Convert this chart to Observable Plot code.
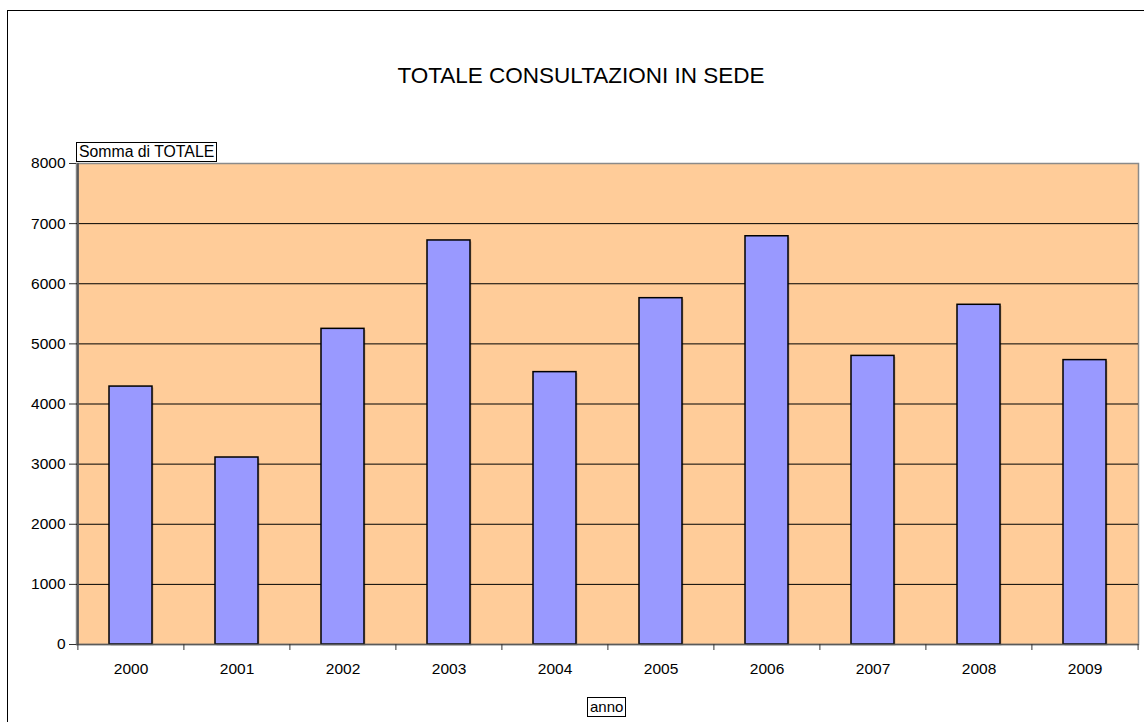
<!DOCTYPE html>
<html>
<head>
<meta charset="utf-8">
<script src="https://cdn.jsdelivr.net/npm/d3@7"></script>
<script src="https://cdn.jsdelivr.net/npm/@observablehq/plot@0.6"></script>
<style>
  html, body { margin: 0; padding: 0; background: #fff; overflow: hidden; }
  #wrap { position: relative; width: 1144px; height: 722px; overflow: hidden; font-family: "Liberation Sans", Arial, sans-serif; }
  #outer { position: absolute; left: 7px; top: 10px; width: 1300px; height: 900px; border: 1px solid #000; box-sizing: border-box; }
  #chart { position: absolute; left: 0; top: 0; }
  #title { position: absolute; left: 281px; width: 600px; top: 62px; text-align: center; font-size: 22.5px; color: #000; line-height: 27px; }
  .box { position: absolute; border: 1px solid #000; background: #fff; font-size: 15px; line-height: 18px; padding: 0 2px; color: #000; }
  #ylab { left: 76px; top: 142px; font-size: 15.8px; }
  #xlab { left: 587px; top: 697px; }
</style>
</head>
<body>
<div id="wrap">
  <div id="outer"></div>
  <div id="chart"></div>
  <div id="title">TOTALE CONSULTAZIONI IN SEDE</div>
  <div class="box" id="ylab">Somma di TOTALE</div>
  <div class="box" id="xlab">anno</div>
</div>
<script>
const years = ["2000","2001","2002","2003","2004","2005","2006","2007","2008","2009"];
const totals = [4290, 3110, 5250, 6720, 4530, 5760, 6790, 4800, 5650, 4730];
const yTicks = [0, 1000, 2000, 3000, 4000, 5000, 6000, 7000, 8000];
const gridTicks = [1000, 2000, 3000, 4000, 5000, 6000, 7000];

const data = years.map((y, i) => ({anno: y, totale: totals[i]}));

const W = 1144, H = 722;
const mL = 76, mR = 6, mT = 163, mB = 78;
const step = (W - mL - mR) / years.length;

const chart = Plot.plot({
  width: W,
  height: H,
  marginLeft: mL,
  marginRight: mR,
  marginTop: mT,
  marginBottom: mB,
  style: {fontFamily: "'Liberation Sans', Arial, sans-serif", fontSize: "15px", color: "#000", background: "transparent"},
  x: {domain: years, paddingInner: 0.595, paddingOuter: 0.2975, label: null},
  y: {domain: [0, 8000], label: null},
  marks: [
    Plot.frame({fill: "#FFCC99", stroke: "#8a8a8a", strokeWidth: 1.5}),
    Plot.gridY(gridTicks, {stroke: "#000", strokeOpacity: 1, strokeWidth: 1}),
    Plot.barY(data, {x: "anno", y: "totale", fill: "#000", fillOpacity: 0.18, dx: 1.5, dy: 1.5}),
    Plot.barY(data, {x: "anno", y: "totale", fill: "#9999FF", stroke: "#000", strokeWidth: 1.5}),
    Plot.ruleY([0], {stroke: "#5a5a5a", strokeWidth: 1.5}),
    Plot.ruleX([years[0]], {dx: -step / 2, stroke: "#5a5a5a", strokeWidth: 2}),
    Plot.axisY({ticks: yTicks, tickSize: 7, tickPadding: 4, tickFormat: d => String(d), fontSize: 15.5, stroke: "#333"}),
    Plot.axisX({ticks: years, tickSize: 6, tickFormat: () => "", dx: -step / 2, stroke: "#333"}),
    Plot.axisX({ticks: [years[years.length - 1]], tickSize: 6, tickFormat: () => "", dx: step / 2, stroke: "#333"}),
    Plot.axisX({ticks: years, tickSize: 0, tickPadding: 18, fontSize: 15.5})
  ]
});
document.getElementById("chart").appendChild(chart);
</script>
</body>
</html>
